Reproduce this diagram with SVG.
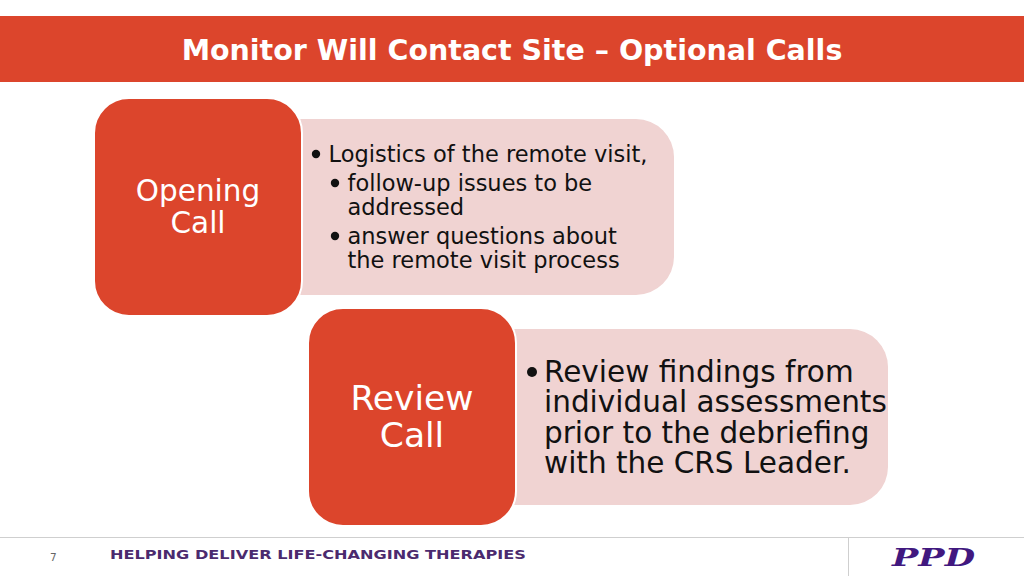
<svg xmlns="http://www.w3.org/2000/svg" width="1024" height="576" viewBox="0 0 1024 576">
<style>
text{font-family:"DejaVu Sans",Verdana,sans-serif}
.pink{fill:#f0d3d2}
.red{fill:#dc452c;stroke:#fff;stroke-width:2}
.head{fill:#fff;text-anchor:middle}
.body{fill:#111}
.b1{font-size:22.5px}
.b2{font-size:29.5px}
.h1{font-size:29.5px}
.h2{font-size:34.5px}
.rule{stroke:#cfcfcf;stroke-width:1;fill:none}
</style>
<rect width="1024" height="576" fill="#fff"/>
<g id="title">
<rect x="0" y="16" width="1024" height="66" fill="#dc452c"/>
<text x="512" y="60" fill="#fff" font-size="28.5" font-weight="bold" text-anchor="middle">Monitor Will Contact Site – Optional Calls</text>
</g>
<g id="opening-details">
<path class="pink" d="M290 119H636a38 38 0 0 1 38 38V257a38 38 0 0 1-38 38H290Z"/>
<circle cx="316" cy="154" r="4.2" fill="#111"/>
<text class="body b1" x="328.500" y="161.500">Logistics of the remote visit,</text>
<circle cx="335" cy="183" r="4.200" fill="#111"/>
<text class="body b1" x="347.500" y="190.500">follow-up issues to be</text>
<text class="body b1" x="347.500" y="215">addressed</text>
<circle cx="335" cy="236" r="4.200" fill="#111"/>
<text class="body b1" x="347.500" y="243.500">answer questions about</text>
<text class="body b1" x="347.500" y="268">the remote visit process</text>
</g>
<g id="opening-call">
<rect class="red" x="94" y="98" width="208" height="218" rx="35" ry="35"/>
<text class="head h1" x="198" y="201">Opening</text>
<text class="head h1" x="198" y="233">Call</text>
</g>
<g id="review-details">
<path class="pink" d="M504 329H850a38 38 0 0 1 38 38V467a38 38 0 0 1-38 38H504Z"/>
<circle cx="532" cy="372" r="5" fill="#111"/>
<text class="body b2" x="544" y="382">Review findings from</text>
<text class="body b2" x="544" y="412">individual assessments</text>
<text class="body b2" x="544" y="443">prior to the debriefing</text>
<text class="body b2" x="544" y="473">with the CRS Leader.</text>
</g>
<g id="review-call">
<rect class="red" x="308" y="308" width="208" height="218" rx="35" ry="35"/>
<text class="head h2" x="412" y="410">Review</text>
<text class="head h2" x="412" y="447">Call</text>
</g>
<g id="footer">
<path class="rule" d="M0 537.500H1024M848.500 537.500V576"/>
<text x="50" y="561" font-size="10.500" fill="#666">7</text>
<text x="110" y="559" font-size="13" font-weight="bold" fill="#4b2a6e" textLength="416" lengthAdjust="spacingAndGlyphs">HELPING DELIVER LIFE-CHANGING THERAPIES</text>
<text x="892" y="566" font-size="25" font-weight="bold" font-style="italic" fill="#41187f" textLength="83" lengthAdjust="spacingAndGlyphs" style="font-family:'DejaVu Serif',serif">PPD</text>
</g>
</svg>
